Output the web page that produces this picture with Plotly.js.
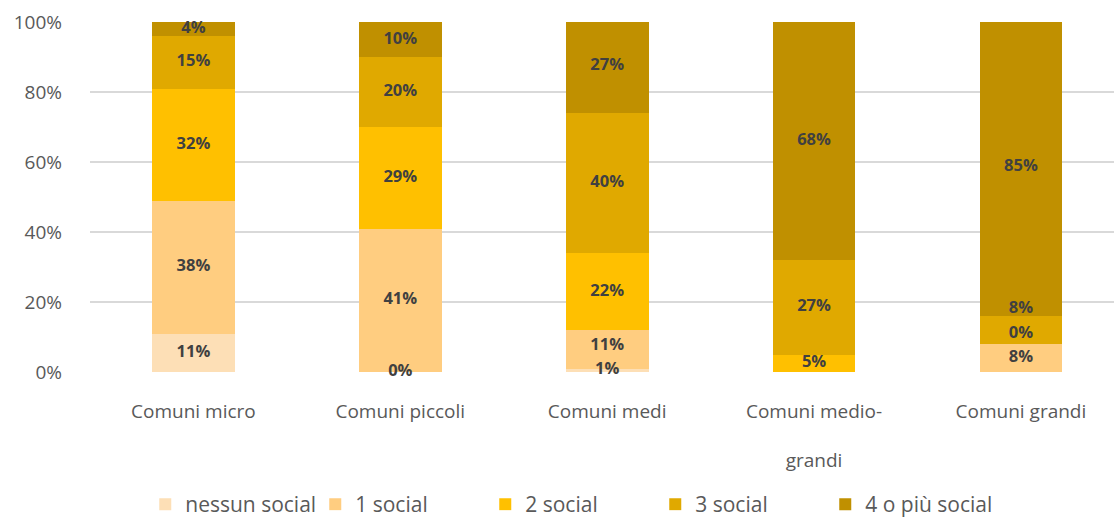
<!DOCTYPE html>
<html>
<head>
<meta charset="utf-8">
<script src="https://cdn.plot.ly/plotly-3.0.1.min.js"></script>
<style>html,body{margin:0;padding:0;background:#fff;}#chart{width:1114px;height:525px;}</style>
</head>
<body>
<div id="chart"></div>
<script>
const categories = ["Comuni micro", "Comuni piccoli", "Comuni medi", "Comuni medio-<br> <br>grandi", "Comuni grandi"];
const seriesNames = ["nessun social", "1 social", "2 social", "3 social", "4 o più social"];
const nessunSocial = [11, 0, 1, null, null];
const unoSocial = [38, 41, 11, null, 8];
const dueSocial = [32, 29, 22, 5, 0];
const treSocial = [15, 20, 40, 27, 8];
const quattroPiuSocial = [4, 10, 27, 68, 85];
const yTicks = [0, 20, 40, 60, 80, 100];

const seriesValues = [nessunSocial, unoSocial, dueSocial, treSocial, quattroPiuSocial];
const colors = ["#FDDFB6", "#FFCD80", "#FFC000", "#E0A900", "#C09000"];

const traces = [];
seriesValues.forEach((vals, i) => {
  traces.push({
    type: "bar", name: seriesNames[i], x: categories, y: vals,
    marker: {color: colors[i]}, hoverinfo: "skip"
  });
});
// labels computed from the same data, with simple collision avoidance
const MIN_GAP = 7;
const cum = categories.map(() => 0);
const lastY = categories.map(() => -Infinity);
const labelX = [], labelY = [], labelT = [];
seriesValues.forEach((vals) => {
  vals.forEach((v, j) => {
    if (v === null) return;
    let y = cum[j] + v / 2;
    if (y - lastY[j] < MIN_GAP) y = lastY[j] + MIN_GAP;
    lastY[j] = y;
    labelX.push(categories[j]);
    labelY.push(y);
    labelT.push(v + "%");
    cum[j] += v;
  });
});
traces.push({
  type: "scatter", mode: "text", x: labelX, y: labelY, text: labelT,
  textposition: "middle center", showlegend: false, hoverinfo: "skip", cliponaxis: false,
  textfont: {family: "Open Sans, sans-serif", size: 16.5, color: "#404040", weight: 700}
});

const layout = {
  width: 1114, height: 525,
  margin: {l: 90, r: 0, t: 22, b: 149},
  paper_bgcolor: "#fff", plot_bgcolor: "#fff",
  barmode: "stack", bargap: 0.6,
  font: {family: "Open Sans, sans-serif", color: "#595959"},
  xaxis: {
    range: [-0.5, 4.45], showgrid: false, zeroline: false, showline: false,
    ticks: "", tickfont: {size: 19, color: "#595959"}, ticklabelstandoff: 26
  },
  yaxis: {
    range: [0, 100], tickvals: yTicks, ticktext: yTicks.map(v => v + "%"),
    showgrid: true, gridcolor: "#D9D9D9", gridwidth: 1.5, zeroline: false, showline: false,
    ticks: "", tickfont: {size: 19, color: "#595959"}, ticklabelstandoff: 27
  },
  showlegend: true,
  legend: {
    orientation: "h", x: 0.469, xanchor: "center", y: -0.38, yanchor: "middle",
    traceorder: "normal", entrywidth: 125, entrywidthmode: "pixels",
    font: {size: 21, color: "#595959"}
  }
};
Plotly.newPlot("chart", traces, layout, {displayModeBar: false, staticPlot: true});
</script>
</body>
</html>
